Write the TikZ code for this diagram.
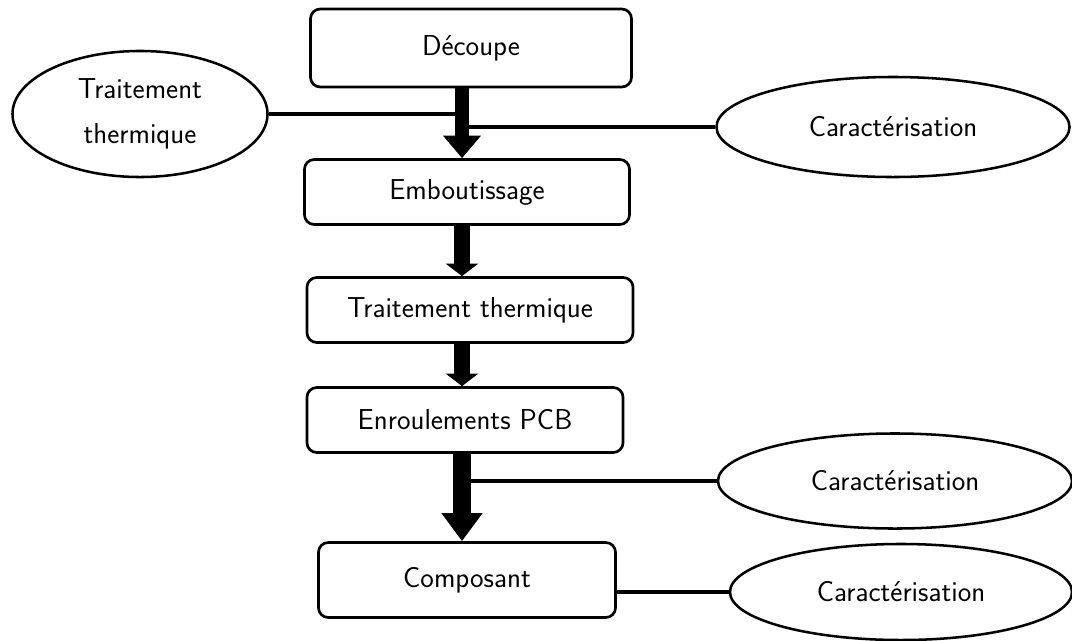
\documentclass[tikz,border=0pt]{standalone}
\usepackage{fontspec}
\usepackage{tikz}
\usetikzlibrary{positioning,arrows.meta,shapes.geometric}
\tikzset{
  stepbox/.style ={draw=black, line width=1.9pt, rounded corners=7pt, fill=white,
                   inner sep=0pt, font=\sffamily\fontsize{20.5}{25}\selectfont},
  sidenode/.style={ellipse, draw=black, line width=1.8pt, fill=white,
                   inner sep=0pt, align=center,
                   font=\sffamily\fontsize{20.5}{32}\selectfont},
  link/.style    ={draw=black, line width=2.8pt},
  flow/.style    ={draw=black, line width=#1},
}

\begin{document}
\begin{tikzpicture}[x=0.025cm, y=-0.025cm]
  \useasboundingbox (0,0) rectangle (1072,640);
  \coordinate (col) at (462,0);

  % ---- the chain of steps -------------------------------------------------
  \node[stepbox, minimum width=8.025cm, minimum height=1.95cm]
    (decoupe) at (471,48) {Découpe};
  \node[stepbox, minimum width=8.125cm, minimum height=1.625cm]
    (embout) at (467,192) {Emboutissage};
  \node[stepbox, minimum width=8.15cm, minimum height=1.625cm]
    (traitement) at (470,310) {Traitement thermique};
  \node[stepbox, minimum width=7.9cm, minimum height=1.625cm]
    (enroul) at (465,420) {Enroulements PCB};
  \node[stepbox, minimum width=7.425cm, minimum height=1.875cm]
    (compo) at (467,580) {Composant};

  % ---- the side steps -----------------------------------------------------
  \node[sidenode, minimum width=6.375cm, minimum height=3.15cm]
    (recuit) at (140,114) {Traitement\\thermique};
  \node[sidenode, minimum width=8.825cm, minimum height=2.5cm]
    (carac1) at (893,127) {Caractérisation};
  \node[sidenode, minimum width=8.85cm, minimum height=2.375cm]
    (carac2) at (895,481) {Caractérisation};
  \node[sidenode, minimum width=8.55cm, minimum height=2.4cm]
    (carac3) at (901,592) {Caractérisation};

  \draw[link] (recuit.east) -- (recuit.east -| col);
  \draw[link] (carac1.west) -- (carac1.west -| col);
  \draw[link] (carac2.west) -- (carac2.west -| col);
  \draw[link] (carac3.west) -- (carac3.west -| compo.east);

  % ---- arrows -------------------------------------------------------------
  \draw[flow=10pt, -{Triangle[width=26pt, length=16pt]}]
    (decoupe.south -| col) -- (embout.north -| col);
  \draw[flow=12pt, -{Triangle[width=23pt, length=9pt]}]
    (embout.south -| col) -- (traitement.north -| col);
  \draw[flow=12pt, -{Triangle[width=23pt, length=9pt]}]
    (traitement.south -| col) -- (enroul.north -| col);
  \draw[flow=13.5pt, -{Triangle[width=28pt, length=20pt]}]
    (enroul.south -| col) -- (compo.north -| col);
\end{tikzpicture}
\end{document}
